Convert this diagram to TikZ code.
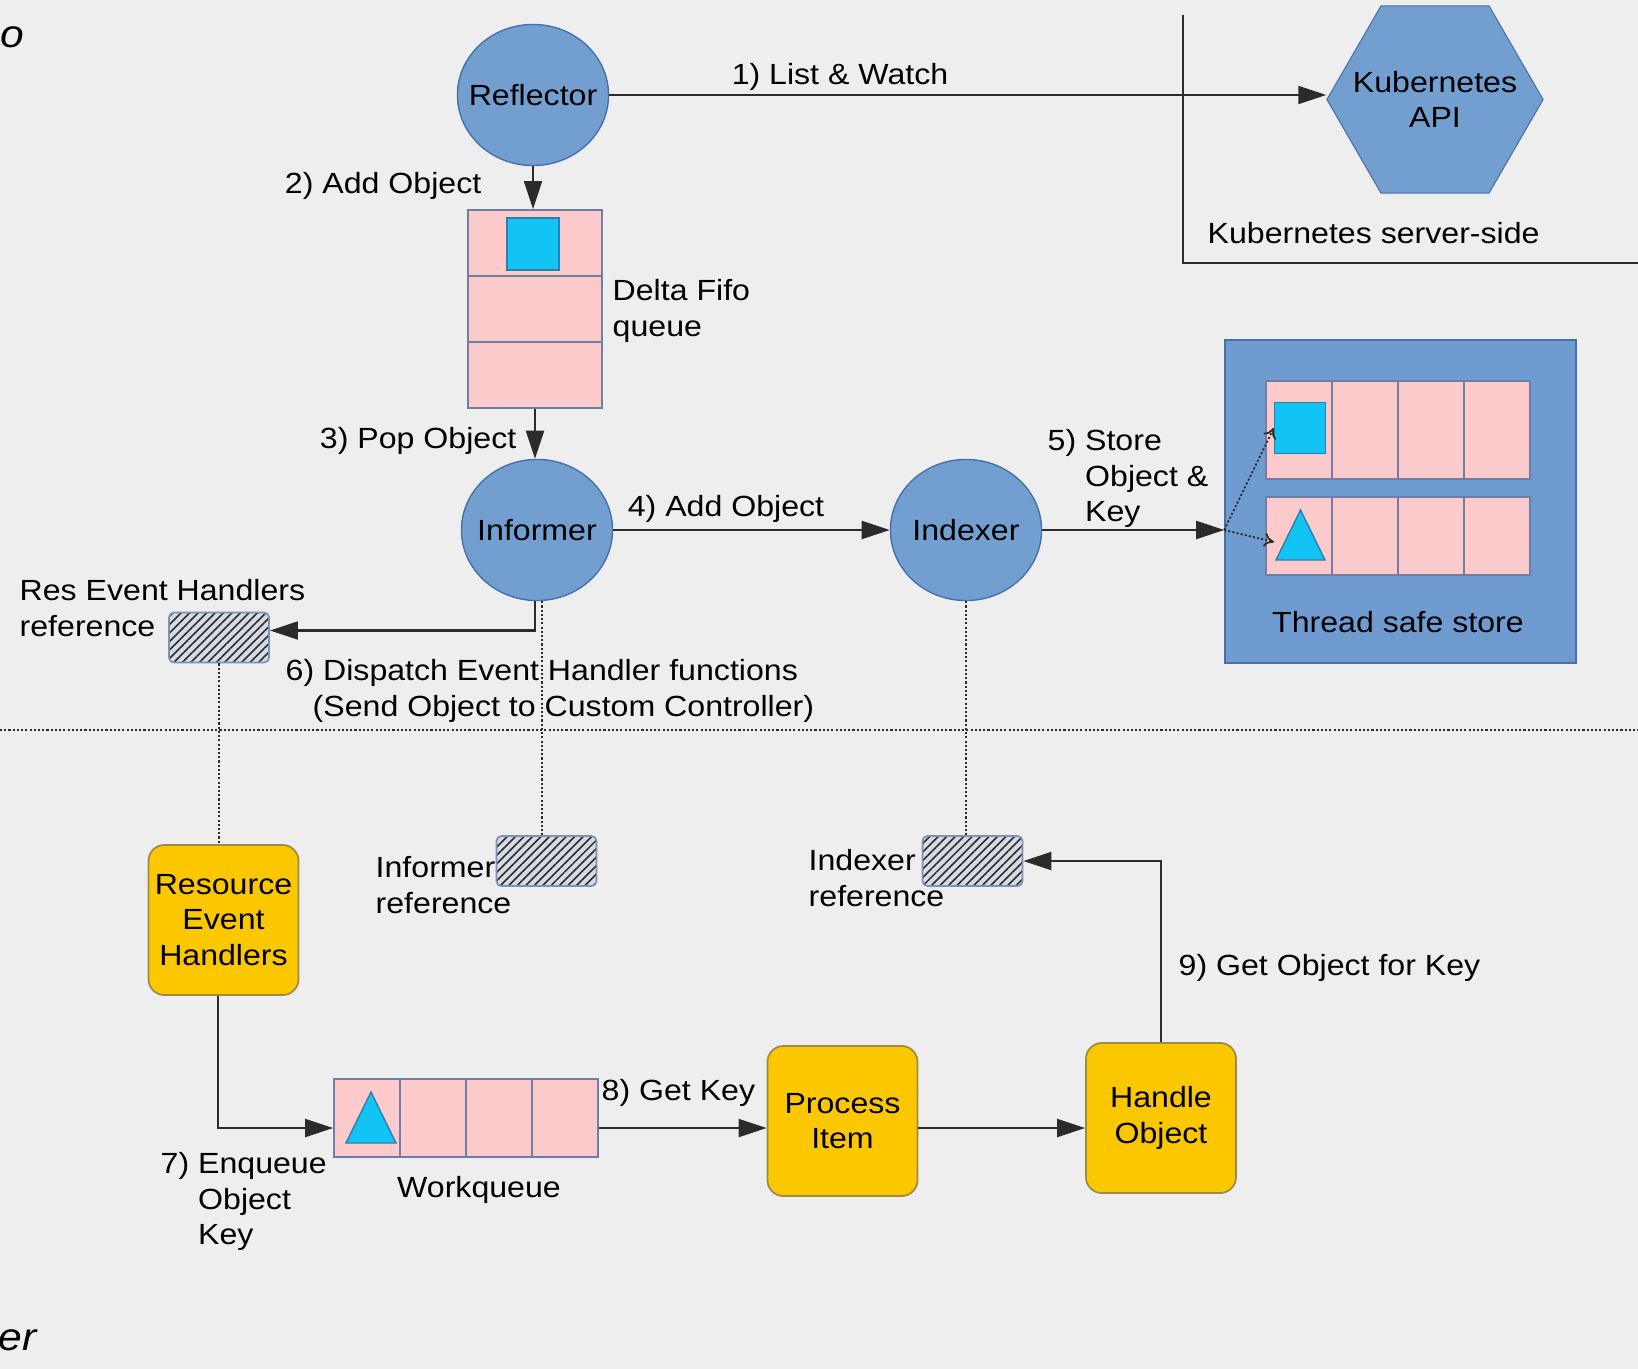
\documentclass[tikz,border=0pt]{standalone}
\usepackage{fontspec}
\setmainfont{Liberation Sans}[FakeStretch=1.1]
\usepackage{tikz}
\usetikzlibrary{arrows.meta,shapes.geometric,patterns.meta}

\definecolor{bggray}{HTML}{EEEEEE}
\definecolor{procblue}{HTML}{729FCF}
\definecolor{procline}{HTML}{4670AC}
\definecolor{storeblue}{HTML}{6F9BD1}
\definecolor{cellpink}{HTML}{FCCACA}
\definecolor{cellline}{HTML}{6F7EA6}
\definecolor{itemcyan}{HTML}{12C4F3}
\definecolor{itemline}{HTML}{2C7FB0}
\definecolor{handgold}{HTML}{FBC800}
\definecolor{handline}{HTML}{9E8B45}
\definecolor{hatchbg}{HTML}{D5DAE3}
\definecolor{hatchline}{HTML}{7D93B5}
\definecolor{wire}{HTML}{2B2B2B}

\begin{document}
\begin{tikzpicture}[
  x=0.01cm, y=-0.01cm,
  font=\fontsize{8.3}{10.1}\selectfont,
  proc/.style={draw=procline, fill=procblue, ellipse, minimum width=1.51cm,
  minimum height=1.41cm, line width=0.4pt, inner ysep=0pt, inner xsep=-0.2cm},
  api/.style={regular polygon, regular polygon sides=6, draw=procline,
  fill=procblue, minimum size=2.16cm, inner sep=0pt, line width=0.3pt},
  cell/.style={draw=cellline, fill=cellpink, line width=0.5pt, inner sep=0pt},
  key/.style={draw=itemline, fill=itemcyan, line width=0.4pt, inner sep=0pt},
  handler/.style={draw=handline, fill=handgold, rounded corners=0.16cm,
  minimum width=1.5cm, minimum height=1.5cm, align=center, line width=0.5pt, inner sep=0pt},
  refbox/.style={draw=hatchline, rounded corners=0.05cm, minimum width=1.0cm,
  minimum height=0.5cm, preaction={fill=hatchbg},
  pattern={Lines[angle=45, distance=1.7pt, line width=0.45pt]},
  pattern color=wire, line width=0.5pt, inner sep=0pt},
  lbl/.style={inner sep=0pt, align=left},
  arr/.style={draw=wire, line width=0.6pt, -{Triangle[length=0.28cm, width=0.18cm]}},
  link/.style={draw=wire, line width=0.5pt, dash pattern=on 0.6pt off 0.6pt}
]
\useasboundingbox[fill=bggray] (0,0) rectangle (1638,1369);

\node[anchor=base west, inner sep=0pt, font=\fontsize{11}{13}\selectfont\itshape] (toptitle) at (0,47) {o};
\node[anchor=base west, inner sep=0pt, font=\fontsize{11}{13}\selectfont\itshape] (bottitle) at (-2,1350) {er};

\coordinate (srvtop) at (1183,15);
\coordinate (srvcorner) at (1183,263);
\coordinate (srvend) at (1638,263);
\draw[wire, line width=0.6pt] (srvtop) -- (srvcorner) -- (srvend);
\node[api] (kapi) at (1435,99.5) {};
\node[lbl, align=center] (kapilbl) at (kapi.center) {Kubernetes\\API};
\node[lbl, anchor=base west] (srvlbl) at (1207,243) {Kubernetes server-side};

\node[proc] (reflector) at (533,95) {Reflector};
\foreach \i in {0,1,2}
  \node[cell, minimum width=1.34cm, minimum height=0.66cm] (fifo\i) at (535,243+66*\i) {};
\node[key, minimum size=0.52cm] (fifokey) at (533,244) {};
\node[lbl, anchor=north west] (fifolbl) at (612,279) {Delta Fifo\\queue};

\node[proc] (informer) at (537,530) {Informer};
\node[proc] (indexer) at (966,530) {Indexer};

\node[fill=storeblue, draw=procline, line width=0.4pt, minimum width=3.51cm,
  minimum height=3.23cm] (store) at (1400.5,501.5) {};
\foreach \i in {0,...,3} {
  \node[cell, minimum width=0.66cm, minimum height=0.98cm] (top\i) at (1299+66*\i,430) {};
  \node[cell, minimum width=0.66cm, minimum height=0.78cm] (bot\i) at (1299+66*\i,536) {};
}
\node[key, minimum size=0.51cm] (topkey) at (1300,428) {};
\draw[key] (1276,560) -- (1300.5,510) -- (1325,560) -- cycle;
\coordinate (botkey) at (1274,542);
\node[lbl, anchor=base] (storelbl) at (1398,632) {Thread safe store};

\node[refbox] (resref) at (219,637.5) {};
\node[lbl, anchor=north west] (resreflbl) at (19,579) {Res Event Handlers\\reference};
\node[refbox] (infref) at (546.5,861) {};
\node[lbl, anchor=north west] (infreflbl) at (375,856) {Informer\\reference};
\node[refbox] (idxref) at (972.5,861) {};
\node[lbl, anchor=north west] (idxreflbl) at (808,849) {Indexer\\reference};

\node[handler] (reh) at (223.5,920) {Resource\\Event\\Handlers};
\foreach \i in {0,...,3}
  \node[cell, minimum width=0.66cm, minimum height=0.78cm] (wq\i) at (367+66*\i,1118) {};
\draw[key] (346,1143) -- (371,1092) -- (396,1143) -- cycle;
\node[lbl, anchor=base] (wqlbl) at (479,1197) {Workqueue};
\node[handler] (procitem) at (842.5,1121) {Process\\Item};
\node[handler] (handleobj) at (1161,1118) {Handle\\Object};

\draw[arr] (reflector.east) -- (reflector.east -| kapi.west);
\node[lbl, anchor=base] (lbl1) at (840,84) {1) List \& Watch};
\draw[arr] (reflector.south) -- (reflector.south |- fifo0.north);
\node[lbl, anchor=base east] (lbl2) at (482,193) {2) Add Object};
\draw[arr] (fifo2.south) -- (fifo2.south |- informer.north);
\node[lbl, anchor=base east] (lbl3) at (517,448) {3) Pop Object};
\draw[arr] (informer.east) -- (indexer.west);
\node[lbl, anchor=base] (lbl4) at (726,516) {4) Add Object};
\draw[arr] (indexer.east) -- (store.west |- indexer.east);
\node[lbl, anchor=north west] (lbl5) at (1047,429) {5) Store\\\phantom{5) }Object \&\\\phantom{5) }Key};
\draw[link, -{To[length=0.1cm, width=0.14cm]}] (store.west |- indexer.east) -- (topkey.west);
\draw[link, -{To[length=0.1cm, width=0.14cm]}] (store.west |- indexer.east) -- (botkey);
\draw[arr] ([xshift=-0.02cm]informer.south) |- ([yshift=0.07cm]resref.east);
\node[lbl, anchor=north west] (lbl6) at (285,659) {6) Dispatch Event Handler functions\\\hspace*{0.27cm}(Send Object to Custom Controller)};

\coordinate (sepl) at (0,730);
\coordinate (sepr) at (1638,730);
\draw[link] (sepl) -- (sepr);
\draw[link] (resref.south) -- (resref.south |- reh.north);
\draw[link] ([xshift=0.05cm]informer.south) -- ([xshift=0.05cm]informer.south |- infref.north);
\draw[link] (indexer.south) -- (indexer.south |- idxref.north);

\draw[arr] ([xshift=-0.055cm]reh.south) |- ([yshift=-0.1cm]wq0.west);
\node[lbl, anchor=north west] (lbl7) at (160,1152) {7) Enqueue\\\phantom{7) }Object\\\phantom{7) }Key};
\draw[arr] ([yshift=-0.1cm]wq3.east) -- ([yshift=-0.1cm]wq3.east -| procitem.west);
\node[lbl, anchor=base west] (lbl8) at (601,1100) {8) Get Key};
\draw[arr] ([yshift=-0.1cm]wq3.east -| procitem.east) -- ([yshift=-0.1cm]wq3.east -| handleobj.west);
\draw[arr] (handleobj.north) |- (idxref.east);
\node[lbl, anchor=base west] (lbl9) at (1178,975) {9) Get Object for Key};
\end{tikzpicture}
\end{document}
